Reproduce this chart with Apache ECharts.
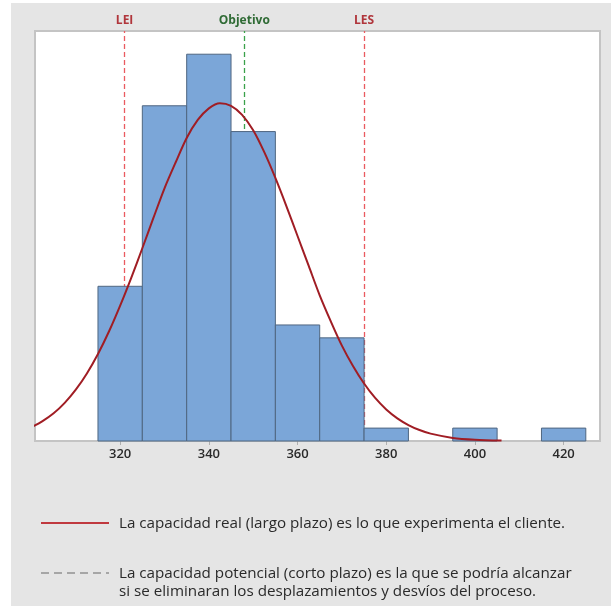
<!DOCTYPE html>
<html><head><meta charset="utf-8">
<script src="https://cdn.jsdelivr.net/npm/echarts@6/dist/echarts.min.js"></script>
<style>html,body{margin:0;padding:0;background:#fff}#c{width:611px;height:606px}</style>
</head><body><div id="c"></div>
<script>
// Histogram bins (lower edge, upper edge) and counts
const binStarts = [315, 325, 335, 345, 355, 365, 375, 385, 395, 405, 415];
const binWidth = 10;
const counts = [12, 26, 30, 24, 9, 8, 1, 0, 1, 0, 1];
// Fitted curve (x, height in counts)
const curveX = [300, 302.5, 305, 307.5, 310, 312.5, 315, 317.5, 320, 322.5, 325, 327.5, 330, 332.5, 335, 337.5, 340, 342.5, 345, 347.5, 350, 352.5, 355, 357.5, 360, 362.5, 365, 367.5, 370, 372.5, 375, 377.5, 380, 382.5, 385, 387.5, 390, 395, 400, 406];
const curveY = [1.07, 1.54, 2.15, 2.96, 3.98, 5.24, 6.75, 8.51, 10.5, 12.66, 14.95, 17.3, 19.6, 21.6, 23.5, 24.9, 25.8, 26.2, 26.0, 25.3, 24.1, 22.4, 20.4, 18.2, 15.9, 13.6, 11.3, 9.28, 7.4, 5.82, 4.46, 3.34, 2.45, 1.76, 1.24, 0.85, 0.57, 0.24, 0.10, 0.03];
// Reference lines
const refNames = ['LEI', 'Objetivo', 'LES'];
const refValues = [321, 348, 375];
const refLineColors = ['#ea5a60', '#3aa14a', '#ea5a60'];
const refLabelColors = ['#b0353b', '#2f6b35', '#b0353b'];
// Tick labels
const xTicks = [320, 340, 360, 380, 400, 420];
// Legend texts
const legendTexts = [
  'La capacidad real (largo plazo) es lo que experimenta el cliente.',
  'La capacidad potencial (corto plazo) es la que se podría alcanzar',
  'si se eliminaran los desplazamientos y desvíos del proceso.'
];

const FONT = '"Open Sans", "Noto Sans", sans-serif';
const chart = echarts.init(document.getElementById('c'), null, {renderer: 'canvas'});

const barData = binStarts.map((s, i) => [s, s + binWidth, counts[i]]).filter(d => d[2] > 0);
const curveData = curveX.map((x, i) => [x, curveY[i]]);

chart.setOption({
  backgroundColor: '#ffffff',
  animation: false,
  graphic: [
    {type: 'rect', z: -10, shape: {x: 11, y: 3, width: 600, height: 603}, style: {fill: '#e5e5e5'}, silent: true},
    {type: 'line', shape: {x1: 41, y1: 523, x2: 109, y2: 523}, style: {stroke: '#c0393f', lineWidth: 2}},
    {type: 'text', x: 119, y: 524, style: {text: legendTexts[0], fill: '#2a2a2a', font: '15.2px ' + FONT, textVerticalAlign: 'middle'}},
    {type: 'line', shape: {x1: 41, y1: 573, x2: 109, y2: 573}, style: {stroke: '#a6a6a6', lineWidth: 2, lineDash: [8, 5]}},
    {type: 'text', x: 119, y: 574, style: {text: legendTexts[1], fill: '#2a2a2a', font: '15.2px ' + FONT, textVerticalAlign: 'middle'}},
    {type: 'text', x: 119, y: 592, style: {text: legendTexts[2], fill: '#2a2a2a', font: '15.2px ' + FONT, textVerticalAlign: 'middle'}}
  ],
  grid: {left: 35, top: 31, width: 565, height: 410, show: true, backgroundColor: '#ffffff', borderColor: '#c4c4c4', borderWidth: 2},
  xAxis: {
    type: 'value', min: 300.8, max: 428.2,
    splitLine: {show: false},
    axisLine: {show: false},
    axisTick: {show: true, customValues: xTicks, length: 4, lineStyle: {color: '#b0b0b0'}},
    axisLabel: {customValues: xTicks, color: '#2a2a2a', fontSize: 13, fontWeight: 600, fontFamily: FONT, margin: 7}
  },
  yAxis: {
    type: 'value', min: 0, max: 31.8, show: false, splitLine: {show: false}
  },
  series: [
    {
      type: 'line', data: [], z: 1, silent: true,
      markLine: {
        z: 1,
        symbol: ['none', 'none'], silent: true, animation: false,
        data: refValues.map((v, i) => ({
          xAxis: v,
          lineStyle: {color: refLineColors[i], type: [5, 3], width: 1.3},
          label: {show: true, position: 'end', formatter: refNames[i], color: refLabelColors[i], fontSize: 12, fontWeight: 'bold', fontFamily: FONT, distance: 4}
        }))
      }
    },
    {
      type: 'custom', z: 2, data: barData,
      renderItem: function (params, api) {
        const p0 = api.coord([api.value(0), api.value(2)]);
        const p1 = api.coord([api.value(1), 0]);
        return {type: 'rect', shape: {x: p0[0], y: p0[1], width: p1[0] - p0[0], height: p1[1] - p0[1]},
          style: {fill: '#7ba6d8', stroke: '#4f6680', lineWidth: 1}};
      }
    },
    {
      type: 'line', z: 3, data: curveData, smooth: 0.3, showSymbol: false, clip: true,
      lineStyle: {color: '#a01d24', width: 2}
    }
  ]
});
</script></body></html>
